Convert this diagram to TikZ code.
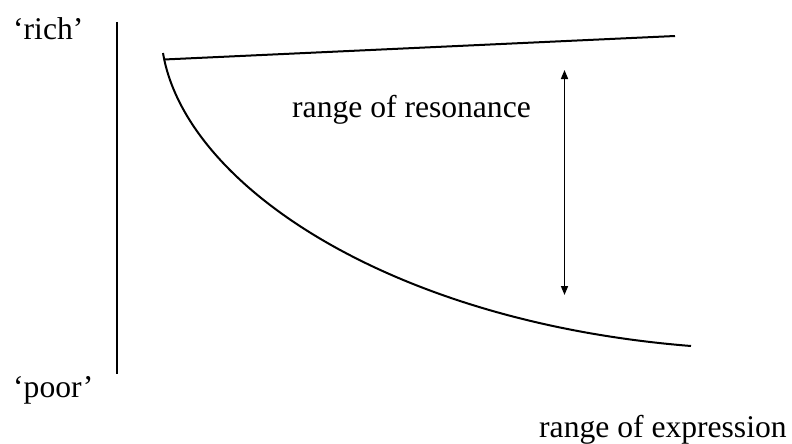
\documentclass[tikz,border=0pt]{standalone}
\usepackage{fontspec}
\setmainfont{Liberation Serif}
\usetikzlibrary{arrows.meta}
\begin{document}
\begin{tikzpicture}[x=1pt,y=-1pt,
  lbl/.style={anchor=base west,inner sep=0pt,font=\fontsize{31.6}{36}\selectfont},
  ln/.style={line width=2pt,line cap=butt}]
\useasboundingbox (0,0) rectangle (792,444);
\node[lbl] (rich) at (13,40) {‘rich’};
\node[lbl] (poor) at (13,397) {‘poor’};
\node[lbl] (res) at (292,117) {range of resonance};
\node[lbl] (expr) at (539,437) {range of expression};
\coordinate (axT) at (116.5,22);
\coordinate (axB) at (116.5,374);
\coordinate (cS) at (163,53);
\coordinate (cE) at (691,346);
\coordinate (tS) at (164,59.5);
\coordinate (tE) at (675,36);
\coordinate (aT) at (564.5,70);
\coordinate (aB) at (564.5,295);
\draw[ln] (axT) -- (axB);
\draw[ln] (tS) -- (tE);
\draw[ln] (cS) .. controls (185,185) and (390,322) .. (cE);
\draw[line width=1.6pt,{Triangle[length=9pt,width=7pt]}-{Triangle[length=9pt,width=7pt]}] (aT) -- (aB);
\end{tikzpicture}
\end{document}
